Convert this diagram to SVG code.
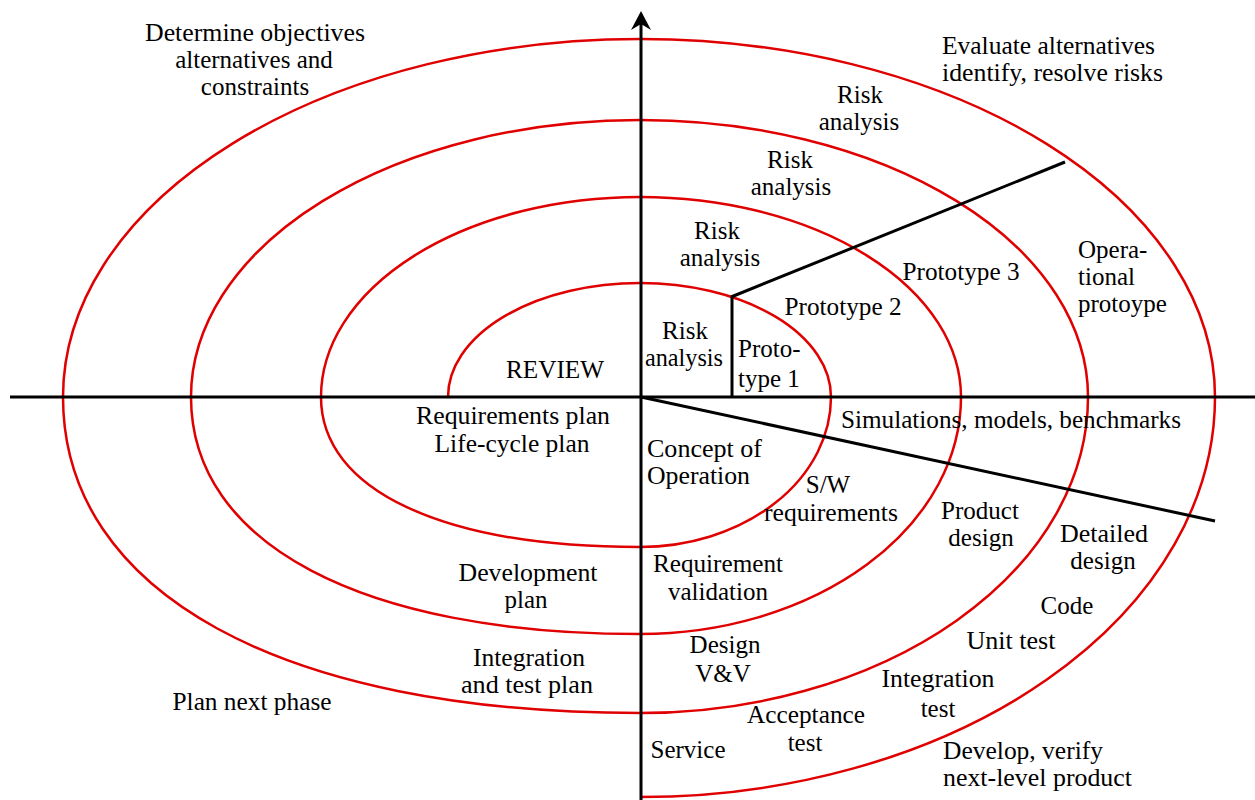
<svg xmlns="http://www.w3.org/2000/svg" width="1255" height="800" viewBox="0 0 1255 800">
<style>
.t{font-family:"Liberation Serif","Times New Roman",serif;font-size:25px;fill:#000}
.m{text-anchor:middle}
.ax{stroke:#000;stroke-width:3;fill:none}
.sp{stroke:#e00000;stroke-width:2.5;fill:none}
</style>
<rect width="1255" height="800" fill="#fff"/>
<g id="spiral">
<path class="sp" d="M448,397 A192,114 0 0 1 640,283 A191,114 0 0 1 831,397 A191,150 0 0 1 640,547 C442,547 321,490 321,397 A319,200 0 0 1 640,197 A321,200 0 0 1 961,397 A321,237 0 0 1 640,634 C362,634 191,544 191,397 A449,277 0 0 1 640,120 A448,277 0 0 1 1088,397 A448,316 0 0 1 640,713 C282,713 63,593 63,397 A577,358 0 0 1 640,39 A575,358 0 0 1 1215,397 A575,400 0 0 1 640,797"/>
</g>
<g id="connectors">
<line class="ax" x1="641" y1="22" x2="641" y2="800"/>
<polygon points="641,11 651,30 641,24 631,30" fill="#000"/>
<line class="ax" x1="10" y1="397" x2="1255" y2="397"/>
<line class="ax" x1="641" y1="397" x2="1215" y2="521"/>
<line class="ax" x1="732" y1="397" x2="732" y2="297"/>
<line class="ax" x1="731" y1="297" x2="1065" y2="162"/>
</g>
<g id="quadrant-labels">
<g id="determine"><text class="t m" x="255" y="41" textLength="220" lengthAdjust="spacingAndGlyphs">Determine objectives</text><text class="t m" x="254" y="68">alternatives and</text><text class="t m" x="255" y="95">constraints</text></g>
<g id="evaluate"><text class="t" x="942" y="54" textLength="213" lengthAdjust="spacingAndGlyphs">Evaluate alternatives</text><text class="t" x="942" y="81" textLength="221" lengthAdjust="spacingAndGlyphs">identify, resolve risks</text></g>
<g id="plan-next"><text class="t m" x="252" y="710" textLength="159" lengthAdjust="spacingAndGlyphs">Plan next phase</text></g>
<g id="develop"><text class="t" x="943" y="759" textLength="160" lengthAdjust="spacingAndGlyphs">Develop, verify</text><text class="t" x="943" y="786" textLength="189" lengthAdjust="spacingAndGlyphs">next-level product</text></g>
</g>
<g id="risk-labels">
<g id="risk4"><text class="t m" x="860" y="103">Risk</text><text class="t m" x="859" y="130">analysis</text></g>
<g id="risk3"><text class="t m" x="790" y="168">Risk</text><text class="t m" x="791" y="195">analysis</text></g>
<g id="risk2"><text class="t m" x="717" y="239">Risk</text><text class="t m" x="720" y="266">analysis</text></g>
<g id="risk1"><text class="t m" x="685" y="339">Risk</text><text class="t m" x="684" y="366" textLength="78" lengthAdjust="spacingAndGlyphs">analysis</text></g>
</g>
<g id="prototype-labels">
<g id="proto1"><text class="t" x="738" y="357">Proto-</text><text class="t" x="738" y="387">type 1</text></g>
<g id="proto2"><text class="t m" x="843" y="315" textLength="117" lengthAdjust="spacingAndGlyphs">Prototype 2</text></g>
<g id="proto3"><text class="t m" x="961" y="280" textLength="117" lengthAdjust="spacingAndGlyphs">Prototype 3</text></g>
<g id="proto-op"><text class="t" x="1078" y="258">Opera-</text><text class="t" x="1078" y="285">tional</text><text class="t" x="1078" y="312">protoype</text></g>
</g>
<g id="review"><text class="t m" x="555" y="378" textLength="98" lengthAdjust="spacingAndGlyphs">REVIEW</text></g>
<g id="plans">
<g id="req-plan"><text class="t m" x="513" y="424" textLength="194" lengthAdjust="spacingAndGlyphs">Requirements plan</text><text class="t m" x="512" y="452" textLength="155" lengthAdjust="spacingAndGlyphs">Life-cycle plan</text></g>
<g id="dev-plan"><text class="t m" x="528" y="581" textLength="139" lengthAdjust="spacingAndGlyphs">Development</text><text class="t m" x="526" y="608">plan</text></g>
<g id="int-plan"><text class="t m" x="529" y="666" textLength="112" lengthAdjust="spacingAndGlyphs">Integration</text><text class="t m" x="527" y="693" textLength="132" lengthAdjust="spacingAndGlyphs">and test plan</text></g>
</g>
<g id="sim"><text class="t m" x="1011" y="428" textLength="340" lengthAdjust="spacingAndGlyphs">Simulations, models, benchmarks</text></g>
<g id="dev-steps">
<g id="concept"><text class="t" x="647" y="457" textLength="115" lengthAdjust="spacingAndGlyphs">Concept of</text><text class="t" x="647" y="484" textLength="103" lengthAdjust="spacingAndGlyphs">Operation</text></g>
<g id="sw-req"><text class="t m" x="828" y="493">S/W</text><text class="t m" x="831" y="521" textLength="134" lengthAdjust="spacingAndGlyphs">requirements</text></g>
<g id="req-val"><text class="t m" x="718" y="572" textLength="130" lengthAdjust="spacingAndGlyphs">Requirement</text><text class="t m" x="718" y="600" textLength="100" lengthAdjust="spacingAndGlyphs">validation</text></g>
<g id="product"><text class="t m" x="980" y="519">Product</text><text class="t m" x="981" y="546">design</text></g>
<g id="detailed"><text class="t m" x="1104" y="542" textLength="88" lengthAdjust="spacingAndGlyphs">Detailed</text><text class="t m" x="1103" y="569">design</text></g>
<g id="code"><text class="t m" x="1067" y="614">Code</text></g>
<g id="unit"><text class="t m" x="1011" y="649" textLength="89" lengthAdjust="spacingAndGlyphs">Unit test</text></g>
<g id="integ"><text class="t m" x="938" y="687" textLength="113" lengthAdjust="spacingAndGlyphs">Integration</text><text class="t m" x="938" y="717">test</text></g>
<g id="design-vv"><text class="t m" x="725" y="653">Design</text><text class="t m" x="723" y="682">V&amp;V</text></g>
<g id="accept"><text class="t m" x="806" y="723" textLength="118" lengthAdjust="spacingAndGlyphs">Acceptance</text><text class="t m" x="805" y="751">test</text></g>
<g id="service"><text class="t m" x="688" y="758">Service</text></g>
</g>
</svg>
